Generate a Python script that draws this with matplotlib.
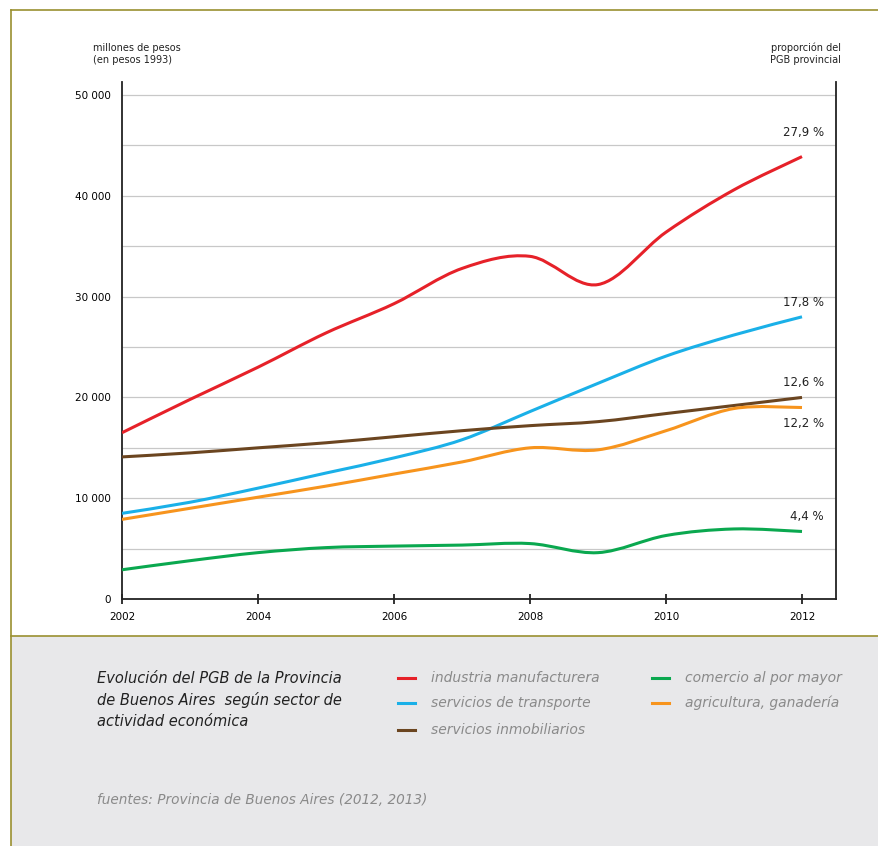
"""Evolución del PGB de la Provincia de Buenos Aires por sector."""
import matplotlib

matplotlib.use("Agg")
import matplotlib.pyplot as plt
import numpy as np
from matplotlib.lines import Line2D
from matplotlib.patches import PathPatch, Rectangle
from matplotlib.path import Path

years = [2002, 2003, 2004, 2005, 2006, 2007, 2008, 2009, 2010, 2011, 2012]
industria = [16500, 19800, 23000, 26400, 29300, 32800, 34000, 31200, 36400, 40600, 43900]
transporte = [8500, 9600, 11000, 12500, 14000, 15800, 18600, 21400, 24100, 26200, 28000]
inmobiliarios = [14100, 14500, 15000, 15500, 16100, 16700, 17200, 17600, 18400, 19200, 20000]
agricultura = [7900, 9000, 10100, 11200, 12400, 13600, 15000, 14800, 16700, 18900, 19000]
comercio = [2900, 3800, 4600, 5100, 5250, 5350, 5500, 4600, 6300, 6950, 6700]

end_labels = ["27,9 %", "17,8 %", "12,6 %", "12,2 %", "4,4 %"]
xticks = [2002, 2004, 2006, 2008, 2010, 2012]
yticks = [0, 10000, 20000, 30000, 40000, 50000]
ytick_labels = ["0", "10 000", "20 000", "30 000", "40 000", "50 000"]

RED, BLUE, BROWN, ORANGE, GREEN = "#e62129", "#1ab0e8", "#6b4520", "#f7941d", "#0aa84f"
OLIVE = "#9a9030"
FONT = "DejaVu Sans"


def smooth_path(x, y):
    # Catmull-Rom through the points, written as cubic Bezier segments
    p = np.column_stack([x, y]).astype(float)
    ext = np.vstack([p[0], p, p[-1]])
    verts = [p[0]]
    codes = [Path.MOVETO]
    for i in range(len(p) - 1):
        p0, p1, p2, p3 = ext[i], ext[i + 1], ext[i + 2], ext[i + 3]
        verts += [p1 + (p2 - p0) / 6, p2 - (p3 - p1) / 6, p2]
        codes += [Path.CURVE4] * 3
    return Path(verts, codes)


fig = plt.figure(figsize=(8.79, 8.46), dpi=100)
W, H = 879, 846

# page frame and grey caption panel
fig.patches.append(Rectangle((11 / W, 0), 1, (H - 636) / H, transform=fig.transFigure,
                             facecolor="#e8e8ea", edgecolor="none", zorder=0))
fig.add_artist(Line2D([11 / W, 1], [1 - 10 / H, 1 - 10 / H], color=OLIVE, lw=1.2))
fig.add_artist(Line2D([11 / W, 1], [1 - 636 / H, 1 - 636 / H], color=OLIVE, lw=1.2))
fig.add_artist(Line2D([11 / W, 11 / W], [0, 1 - 10 / H], color=OLIVE, lw=1.2))

ax = fig.add_axes([122 / W, (H - 599) / H, 714 / W, 517 / H])
ax.set_xlim(2002, 2012.5)
ax.set_ylim(0, 51300)

for v in range(5000, 50001, 5000):
    ax.axhline(v, color="#c8c8c8", lw=0.9, zorder=1)

series = [
    (industria, RED, 24),
    (transporte, BLUE, 14),
    (inmobiliarios, BROWN, 15),
    (agricultura, ORANGE, -16),
    (comercio, GREEN, 15),
]
for (vals, color, dy), lab in zip(series, end_labels):
    ax.add_patch(PathPatch(smooth_path(years, vals), facecolor="none", edgecolor=color,
                           lw=2.2, zorder=3, capstyle="butt"))
    ax.annotate(lab, (years[-1], vals[-1]), xytext=(22, dy), textcoords="offset pixels",
                ha="right", va="center", fontsize=8.5, family=FONT, color="#222222")

for s in ["left", "right", "bottom"]:
    ax.spines[s].set_color("#222222")
    ax.spines[s].set_linewidth(1.3)
ax.spines["top"].set_visible(False)

ax.set_xticks(xticks)
ax.set_xticklabels([str(t) for t in xticks], family=FONT, fontsize=7.5)
ax.tick_params(axis="x", direction="inout", length=7, width=1.3, color="#222222", pad=6)
ax.set_yticks(yticks)
ax.set_yticklabels(ytick_labels, family=FONT, fontsize=7.5)
ax.tick_params(axis="y", length=0, pad=8)

fig.text(93 / W, 1 - 54 / H, "millones de pesos\n(en pesos 1993)", ha="left", va="center",
         fontsize=7, family=FONT, color="#222222", linespacing=1.3)
fig.text(841 / W, 1 - 54 / H, "proporción del\nPGB provincial", ha="right", va="center",
         fontsize=7, family=FONT, color="#222222", linespacing=1.3)

# caption and legend
fig.text(97 / W, 1 - 700 / H,
         "Evolución del PGB de la Provincia\nde Buenos Aires  según sector de\nactividad económica",
         ha="left", va="center", fontsize=10.5, style="italic", family=FONT,
         color="#222222", linespacing=1.5)

legend_items = [
    ("industria manufacturera", RED, 398, 678),
    ("servicios de transporte", BLUE, 398, 703),
    ("servicios inmobiliarios", BROWN, 398, 730),
    ("comercio al por mayor", GREEN, 652, 678),
    ("agricultura, ganadería", ORANGE, 652, 703),
]
for text, color, x0, y0 in legend_items:
    fig.add_artist(Line2D([x0 / W, (x0 + 17) / W], [1 - y0 / H, 1 - y0 / H], color=color, lw=2.2))
    fig.text((x0 + 33) / W, 1 - y0 / H, text, ha="left", va="center", fontsize=10,
             style="italic", family=FONT, color="#8a8a8a")

fig.text(97 / W, 1 - 800 / H, "fuentes: Provincia de Buenos Aires (2012, 2013)", ha="left",
         va="center", fontsize=9.8, style="italic", family=FONT, color="#8a8a8a")

fig.savefig("out.png", dpi=100)
plt.close(fig)
